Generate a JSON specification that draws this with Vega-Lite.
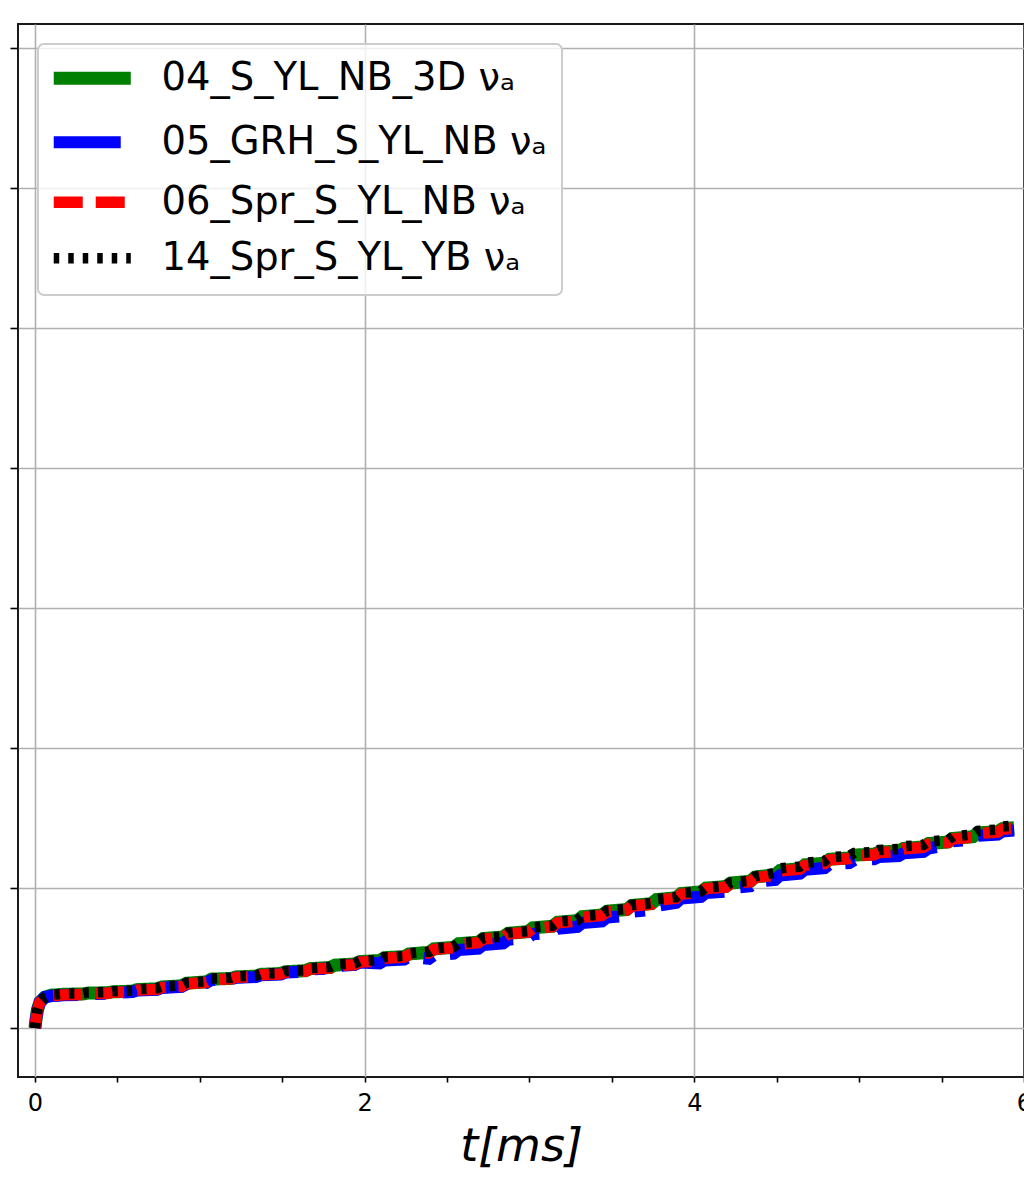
{
  "$schema": "https://vega.github.io/schema/vega-lite/v6.json",
  "autosize": {"type": "none"},
  "padding": {"left": 18, "top": 24, "right": 0, "bottom": 105},
  "width": 1006,
  "height": 1053,
  "background": "white",
  "config": {
    "font": "DejaVu Sans",
    "view": {"stroke": "#1a1a1a", "strokeWidth": 2},
    "axis": {
      "labelFont": "DejaVu Sans",
      "labelFontSize": 24,
      "labelColor": "#000000",
      "tickColor": "#000000",
      "tickWidth": 1.6,
      "gridColor": "#b0b0b0",
      "gridWidth": 1.6,
      "domain": false
    },
    "legend": {
      "orient": "none",
      "legendX": 20,
      "legendY": 20,
      "padding": 15,
      "fillColor": "rgba(255,255,255,0.8)",
      "strokeColor": "#cccccc",
      "strokeWidth": 2,
      "cornerRadius": 6,
      "labelFont": "DejaVu Sans",
      "labelFontSize": 38.5,
      "labelColor": "#000000",
      "labelLimit": 0,
      "labelOffset": 70,
      "symbolType": "M-1.61,0H5.09",
      "symbolSize": 529,
      "rowPadding": 12,
      "title": null
    }
  },
  "data": {
    "values": [
      {"t": 0, "s04": 0, "s05": 0, "s06": 0, "s14": 0},
      {"t": 0.005, "s04": 0.05, "s05": 0.05, "s06": 0.05, "s14": 0.05},
      {"t": 0.015, "s04": 0.13, "s05": 0.13, "s06": 0.13, "s14": 0.13},
      {"t": 0.03, "s04": 0.185, "s05": 0.185, "s06": 0.185, "s14": 0.185},
      {"t": 0.06, "s04": 0.22, "s05": 0.22, "s06": 0.22, "s14": 0.22},
      {"t": 0.1, "s04": 0.235, "s05": 0.229, "s06": 0.231, "s14": 0.239},
      {"t": 0.14, "s04": 0.237, "s05": 0.231, "s06": 0.233, "s14": 0.241},
      {"t": 0.17, "s04": 0.241, "s05": 0.235, "s06": 0.237, "s14": 0.245},
      {"t": 0.29, "s04": 0.243, "s05": 0.237, "s06": 0.239, "s14": 0.247},
      {"t": 0.32, "s04": 0.249, "s05": 0.243, "s06": 0.245, "s14": 0.253},
      {"t": 0.44, "s04": 0.252, "s05": 0.246, "s06": 0.248, "s14": 0.256},
      {"t": 0.47, "s04": 0.258, "s05": 0.252, "s06": 0.254, "s14": 0.262},
      {"t": 0.59, "s04": 0.263, "s05": 0.257, "s06": 0.259, "s14": 0.267},
      {"t": 0.62, "s04": 0.274, "s05": 0.268, "s06": 0.270, "s14": 0.278},
      {"t": 0.74, "s04": 0.280, "s05": 0.274, "s06": 0.276, "s14": 0.284},
      {"t": 0.77, "s04": 0.293, "s05": 0.287, "s06": 0.289, "s14": 0.297},
      {"t": 0.89, "s04": 0.301, "s05": 0.295, "s06": 0.297, "s14": 0.305},
      {"t": 0.92, "s04": 0.320, "s05": 0.314, "s06": 0.316, "s14": 0.324},
      {"t": 1.04, "s04": 0.329, "s05": 0.323, "s06": 0.325, "s14": 0.333},
      {"t": 1.07, "s04": 0.349, "s05": 0.343, "s06": 0.345, "s14": 0.353},
      {"t": 1.19, "s04": 0.354, "s05": 0.348, "s06": 0.350, "s14": 0.358},
      {"t": 1.22, "s04": 0.365, "s05": 0.359, "s06": 0.361, "s14": 0.369},
      {"t": 1.34, "s04": 0.370, "s05": 0.364, "s06": 0.366, "s14": 0.374},
      {"t": 1.37, "s04": 0.383, "s05": 0.377, "s06": 0.379, "s14": 0.387},
      {"t": 1.49, "s04": 0.389, "s05": 0.383, "s06": 0.385, "s14": 0.393},
      {"t": 1.52, "s04": 0.402, "s05": 0.396, "s06": 0.398, "s14": 0.406},
      {"t": 1.64, "s04": 0.409, "s05": 0.403, "s06": 0.405, "s14": 0.413},
      {"t": 1.67, "s04": 0.424, "s05": 0.418, "s06": 0.420, "s14": 0.428},
      {"t": 1.79, "s04": 0.432, "s05": 0.426, "s06": 0.428, "s14": 0.436},
      {"t": 1.82, "s04": 0.449, "s05": 0.443, "s06": 0.445, "s14": 0.453},
      {"t": 1.94, "s04": 0.457, "s05": 0.451, "s06": 0.453, "s14": 0.461},
      {"t": 1.97, "s04": 0.474, "s05": 0.468, "s06": 0.470, "s14": 0.478},
      {"t": 2.09, "s04": 0.482, "s05": 0.462, "s06": 0.478, "s14": 0.486},
      {"t": 2.12, "s04": 0.502, "s05": 0.482, "s06": 0.498, "s14": 0.506},
      {"t": 2.24, "s04": 0.510, "s05": 0.490, "s06": 0.506, "s14": 0.514},
      {"t": 2.27, "s04": 0.529, "s05": 0.509, "s06": 0.525, "s14": 0.533},
      {"t": 2.39, "s04": 0.540, "s05": 0.495, "s06": 0.536, "s14": 0.544},
      {"t": 2.42, "s04": 0.565, "s05": 0.520, "s06": 0.561, "s14": 0.569},
      {"t": 2.54, "s04": 0.576, "s05": 0.531, "s06": 0.572, "s14": 0.580},
      {"t": 2.57, "s04": 0.602, "s05": 0.557, "s06": 0.598, "s14": 0.606},
      {"t": 2.69, "s04": 0.613, "s05": 0.568, "s06": 0.609, "s14": 0.617},
      {"t": 2.72, "s04": 0.639, "s05": 0.594, "s06": 0.635, "s14": 0.643},
      {"t": 2.84, "s04": 0.650, "s05": 0.605, "s06": 0.646, "s14": 0.654},
      {"t": 2.87, "s04": 0.676, "s05": 0.631, "s06": 0.672, "s14": 0.680},
      {"t": 2.99, "s04": 0.688, "s05": 0.643, "s06": 0.684, "s14": 0.692},
      {"t": 3.02, "s04": 0.715, "s05": 0.670, "s06": 0.711, "s14": 0.719},
      {"t": 3.14, "s04": 0.727, "s05": 0.682, "s06": 0.723, "s14": 0.731},
      {"t": 3.17, "s04": 0.755, "s05": 0.710, "s06": 0.751, "s14": 0.759},
      {"t": 3.29, "s04": 0.767, "s05": 0.722, "s06": 0.763, "s14": 0.771},
      {"t": 3.32, "s04": 0.795, "s05": 0.750, "s06": 0.791, "s14": 0.799},
      {"t": 3.44, "s04": 0.807, "s05": 0.762, "s06": 0.803, "s14": 0.811},
      {"t": 3.47, "s04": 0.834, "s05": 0.789, "s06": 0.830, "s14": 0.838},
      {"t": 3.59, "s04": 0.846, "s05": 0.801, "s06": 0.842, "s14": 0.850},
      {"t": 3.62, "s04": 0.875, "s05": 0.830, "s06": 0.871, "s14": 0.879},
      {"t": 3.74, "s04": 0.888, "s05": 0.843, "s06": 0.884, "s14": 0.892},
      {"t": 3.77, "s04": 0.917, "s05": 0.872, "s06": 0.913, "s14": 0.921},
      {"t": 3.89, "s04": 0.930, "s05": 0.895, "s06": 0.926, "s14": 0.934},
      {"t": 3.92, "s04": 0.960, "s05": 0.925, "s06": 0.956, "s14": 0.964},
      {"t": 4.04, "s04": 0.972, "s05": 0.937, "s06": 0.968, "s14": 0.976},
      {"t": 4.07, "s04": 0.999, "s05": 0.964, "s06": 0.995, "s14": 1.003},
      {"t": 4.19, "s04": 1.010, "s05": 0.975, "s06": 1.006, "s14": 1.014},
      {"t": 4.22, "s04": 1.035, "s05": 1.000, "s06": 1.031, "s14": 1.039},
      {"t": 4.34, "s04": 1.048, "s05": 1.013, "s06": 1.044, "s14": 1.052},
      {"t": 4.37, "s04": 1.079, "s05": 1.044, "s06": 1.075, "s14": 1.083},
      {"t": 4.49, "s04": 1.093, "s05": 1.058, "s06": 1.089, "s14": 1.108},
      {"t": 4.52, "s04": 1.125, "s05": 1.090, "s06": 1.121, "s14": 1.140},
      {"t": 4.64, "s04": 1.137, "s05": 1.102, "s06": 1.133, "s14": 1.152},
      {"t": 4.67, "s04": 1.165, "s05": 1.130, "s06": 1.161, "s14": 1.180},
      {"t": 4.79, "s04": 1.177, "s05": 1.142, "s06": 1.173, "s14": 1.192},
      {"t": 4.82, "s04": 1.205, "s05": 1.170, "s06": 1.201, "s14": 1.220},
      {"t": 4.94, "s04": 1.214, "s05": 1.179, "s06": 1.210, "s14": 1.229},
      {"t": 4.97, "s04": 1.235, "s05": 1.200, "s06": 1.231, "s14": 1.250},
      {"t": 5.09, "s04": 1.241, "s05": 1.206, "s06": 1.237, "s14": 1.256},
      {"t": 5.12, "s04": 1.256, "s05": 1.221, "s06": 1.252, "s14": 1.271},
      {"t": 5.24, "s04": 1.264, "s05": 1.229, "s06": 1.260, "s14": 1.279},
      {"t": 5.27, "s04": 1.283, "s05": 1.248, "s06": 1.279, "s14": 1.298},
      {"t": 5.39, "s04": 1.293, "s05": 1.258, "s06": 1.289, "s14": 1.308},
      {"t": 5.42, "s04": 1.317, "s05": 1.282, "s06": 1.313, "s14": 1.332},
      {"t": 5.54, "s04": 1.328, "s05": 1.308, "s06": 1.324, "s14": 1.343},
      {"t": 5.57, "s04": 1.354, "s05": 1.334, "s06": 1.350, "s14": 1.369},
      {"t": 5.69, "s04": 1.366, "s05": 1.346, "s06": 1.362, "s14": 1.381},
      {"t": 5.72, "s04": 1.393, "s05": 1.373, "s06": 1.389, "s14": 1.408},
      {"t": 5.84, "s04": 1.402, "s05": 1.382, "s06": 1.398, "s14": 1.417},
      {"t": 5.87, "s04": 1.424, "s05": 1.404, "s06": 1.420, "s14": 1.439},
      {"t": 5.94, "s04": 1.430, "s05": 1.410, "s06": 1.426, "s14": 1.445}
    ]
  },
  "transform": [
    {"fold": ["s04", "s05", "s06", "s14"], "as": ["series", "nu_a"]}
  ],
  "mark": {"type": "line", "clip": true, "strokeCap": "butt", "strokeJoin": "miter"},
  "encoding": {
    "x": {
      "field": "t",
      "type": "quantitative",
      "scale": {"domain": [-0.103, 6.0], "nice": false, "zero": false},
      "axis": {
        "title": "t[ms]",
        "titleFont": "DejaVu Sans",
        "titleFontStyle": "italic",
        "titleFontWeight": "normal",
        "titleFontSize": 46,
        "titleColor": "#000000",
        "titlePadding": 9,
        "values": [0, 0.5, 1, 1.5, 2, 2.5, 3, 3.5, 4, 4.5, 5, 5.5, 6],
        "labelExpr": "datum.value % 2 === 0 ? format(datum.value, 'd') : ''",
        "labelFontSize": 24,
        "labelPadding": 9,
        "labelFlush": false,
        "labelOverlap": false,
        "tickSize": 5,
        "grid": true,
        "gridOpacity": {"condition": {"test": "datum.value % 2 === 0", "value": 1}, "value": 0}
      }
    },
    "y": {
      "field": "nu_a",
      "type": "quantitative",
      "scale": {"domain": [-0.35, 7.17], "nice": false, "zero": false},
      "axis": {
        "title": null,
        "values": [0, 1, 2, 3, 4, 5, 6, 7],
        "labels": false,
        "tickSize": 8,
        "grid": true
      }
    },
    "color": {
      "field": "series",
      "type": "nominal",
      "scale": {"domain": ["s04", "s05", "s06", "s14"], "range": ["#008000", "#0000ff", "#ff0000", "#000000"]},
      "legend": {"labelExpr": "datum.label === 's04' ? '04_S_YL_NB_3D νₐ' : datum.label === 's05' ? '05_GRH_S_YL_NB νₐ' : datum.label === 's06' ? '06_Spr_S_YL_NB νₐ' : '14_Spr_S_YL_YB νₐ'"}
    },
    "strokeDash": {
      "field": "series",
      "type": "nominal",
      "scale": {"domain": ["s04", "s05", "s06", "s14"], "range": [[1, 0], [67, 17, 10.5, 17], [29, 13], [5.5, 9]]},
      "legend": {"labelExpr": "datum.label === 's04' ? '04_S_YL_NB_3D νₐ' : datum.label === 's05' ? '05_GRH_S_YL_NB νₐ' : datum.label === 's06' ? '06_Spr_S_YL_NB νₐ' : '14_Spr_S_YL_YB νₐ'"}
    },
    "strokeWidth": {
      "field": "series",
      "type": "ordinal",
      "scale": {"domain": ["s04", "s05", "s06", "s14"], "range": [13, 10.5, 8, 5.5]},
      "legend": {"labelExpr": "datum.label === 's04' ? '04_S_YL_NB_3D νₐ' : datum.label === 's05' ? '05_GRH_S_YL_NB νₐ' : datum.label === 's06' ? '06_Spr_S_YL_NB νₐ' : '14_Spr_S_YL_YB νₐ'"}
    }
  }
}
